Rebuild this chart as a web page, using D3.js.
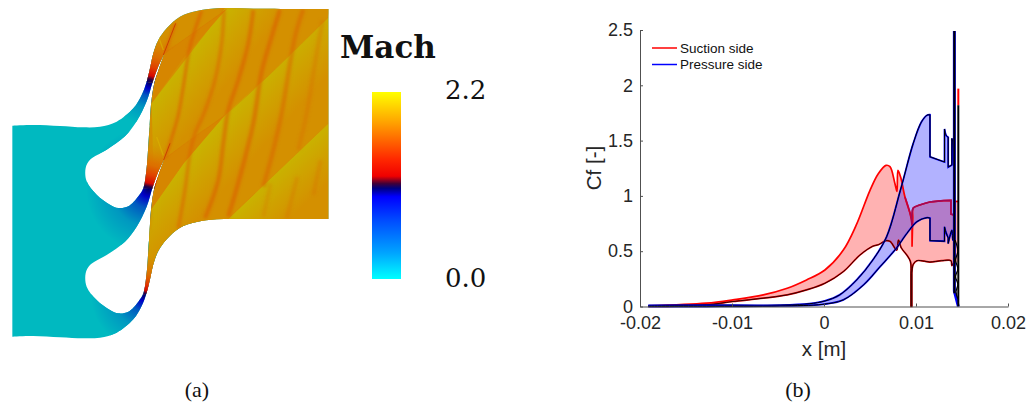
<!DOCTYPE html>
<html><head><meta charset="utf-8">
<script src="https://cdn.jsdelivr.net/npm/d3@7"></script>
<style>html,body{margin:0;padding:0;background:#fff}svg{display:block}</style>
</head><body><svg id="c" width="1031" height="405"></svg>
<script>
// ---- line chart data: [x in m, Cf]
const suctionUpper=[[-.0191,.005],[-.0128,.03],[-.0099,.06],[-.0066,.105],[-.004,.165],[-.0019,.24],[.0001,.33],[.0021,.51],[.0035,.735],[.005,1.05],[.0059,1.2],[.00674,1.276],[.00717,1.264],[.0077,1.115],[.00793,1.04],[.00804,1.23],[.00833,1.17],[.0088,.99],[.00935,.845],[.00957,.78],[.00957,.54],[.00965,.8],[.0097,.89],[.0104,.917],[.0115,.945],[.0138,.96],[.0138,.836],[.0141,.83],[.0142,.955]];
const suctionPlateau=[[.0088,.99],[.00935,.845],[.00957,.74]];
const suctionPlateau2=[[.00957,.74],[.0097,.89],[.0104,.917],[.0115,.945],[.0138,.96],[.0138,.836],[.0141,.83]];
const suctionTail=[[.0142,.95],[.0146,.95]];
const suctionLower=[[-.0191,0],[-.0128,.015],[-.0099,.045],[-.0066,.075],[-.004,.105],[-.0019,.15],[.0001,.21],[.0021,.315],[.0039,.465],[.0053,.545],[.0059,.558],[.00674,.595],[.0072,.587],[.0079,.51],[.0081,.6],[.0084,.53],[.009,.465],[.0094,.405],[.00945,.3],[.00945,0],[.00955,0],[.00955,.3],[.0097,.38],[.0101,.414],[.0109,.41],[.0115,.402],[.0128,.414],[.0138,.414],[.0139,.37],[.0142,.41]];
const pressureUpper=[[-.0191,.01],[-.0128,.012],[-.0048,.012],[-.0016,.025],[.0001,.05],[.0017,.105],[.00355,.24],[.0053,.42],[.0068,.63],[.0083,1.05],[.0097,1.475],[.0106,1.67],[.0112,1.73],[.01152,1.734],[.01152,1.354],[.0131,1.306],[.0131,1.605],[.01326,1.55],[.0135,1.53],[.0135,1.26],[.0139,1.28],[.0139,1.52],[.0140,1.48],[.01412,1.28]];
const pressureLower=[[-.0191,0],[-.0128,0],[-.0048,.005],[-.0001,.02],[.0021,.06],[.0043,.195],[.0061,.36],[.0079,.53],[.009,.66],[.0101,.767],[.0112,.803],[.01152,.80],[.01152,.595],[.0131,.59],[.0131,.72],[.01326,.67],[.0135,.62],[.0135,.57],[.0139,.69],[.0140,.6],[.01412,.65]];
const pressureSpike=[[.01417,2.49],[.01417,.14],[.0146,0]];
const blackSpike=[[.01417,2.49],[.01417,.12]];
const blackSpike2=[[.0146,1.82],[.0146,0]];
const zigzag=[[.01425,.6],[.01455,.5],[.0143,.42],[.01455,.34],[.0143,.27],[.01455,.2],[.01435,.13],[.01455,.07]];
const redTip=[[.0146,1.97],[.0146,1.82]];
const xTicks=[-.02,-.01,0,.01,.02];
const yTicks=[0,.5,1,1.5,2,2.5];
const legendNames=["Suction side","Pressure side"];
const legendColors=["#ff0000","#0000ff"];
const captions=["(a)","(b)"];

// ---- colour bar
const barOffsets=[0,.15,.36,.45,.49,.515,.56,.68,.86,1];
const barColors=["#ffff00","#ffaa00","#ff2800","#f00000","#400038","#000080","#0000ff","#0048ff","#00a4ff","#00ffff"];

// ---- flow field geometry in mesh units
const outlineTop=[[37,377],[100,375],[180,378],[250,382],[300,380],[350,365],[400,325],[425,285],[440,245],[450,205],[460,160],[475,120],[500,85],[540,50],[590,33],[650,25],[760,26],[985,27]];
const outlineBottom=[[985,657],[760,657],[650,658],[590,666],[540,683],[500,718],[475,753],[460,793],[450,838],[440,878],[425,918],[400,958],[350,998],[300,1013],[250,1015],[180,1012],[100,1008],[37,1010]];
const blade=[[491,480],[472,522],[458,562],[440,620],[410,680],[375,725],[320,765],[270,795],[257,820],[260,860],[290,900],[330,930],[355,940],[385,935],[415,905],[430,880],[440,820],[445,750],[449,690],[453,630],[463,565],[476,525],[492,481]];
const bladePitch=[-316,0];
const superRegion=[[438,245],[461,250],[456,262],[447,310],[440,400],[431,566],[460,566],[456,580],[447,620],[440,720],[431,884],[441,880],[445,1100],[1100,1100],[1100,0],[400,0]];
const shocks=[
 {p:[[495,475],[510,430],[535,345],[550,260],[570,140],[605,32]],w:8,o:.75},
 {p:[[495,155],[510,115],[527,70]],w:6,o:.85},
 {p:[[535,685],[555,570],[570,460],[585,400],[610,345],[645,240],[665,130],[672,30]],w:10,o:.55},
 {p:[[615,655],[655,540],[670,430],[685,330],[715,240],[745,130],[760,30]],w:12,o:.6},
 {p:[[685,650],[720,530],[760,370],[785,215],[815,110],[840,28]],w:13,o:.6},
 {p:[[790,560],[820,450],[845,340],[885,110],[910,28]],w:13,o:.5},
 {p:[[895,450],[920,340],[945,190],[968,60]],w:13,o:.28},
 {p:[[790,650],[812,550]],w:12,o:.2},
 {p:[[860,655],[892,530]],w:12,o:.25},
 {p:[[940,585],[962,480]],w:12,o:.25},
 {p:[[447,690],[452,630]],w:4,o:.6}
];
const yellowRays=[[[470,95],[490,150]],[[470,411],[490,466]]];
const wakeLines=[[[490,480],[580,412],[675,345],[800,232],[985,52]],[[685,656],[985,370]],[[490,162],[680,28]]];
const darkWedges=[[[490,162],[680,26],[550,175],[455,310],[470,230]],[[490,478],[675,345],[550,491],[455,626],[470,546]]];
const yellowWedges=[
 {p:[[455,310],[675,25],[990,20],[985,52],[800,232],[675,345],[550,491],[455,626],[460,500]],g:[[565,172],[675,260]]},
 {p:[[455,626],[550,491],[675,345],[800,232],[985,52],[990,660],[685,660],[500,720],[470,760],[450,840],[445,700]],g:[[640,395],[745,490]]},
 {p:[[685,656],[985,370],[990,660]],g:[[835,512],[925,605]]}
];
const throats=[
 {c:[448,250],r:125,dir:[[449,247],[490,110]]},
 {c:[445,568],r:185,dir:[[446,568],[478,440]]},
 {c:[434,885],r:160,dir:[[434,887],[458,770]]}
];
const radialOffsets=[0,.12,.3,.6,1];
const radialColors=["#00006a","#0000c8","#0058c0","#0098c0","#00b8c0"];
const flowOffsets=[0,.06,.14,.32,.55,1];
const flowColors=["#000070","#300040","#d80800","#e04000","#dc7000","#d68a00"];
const channels=[
 [[438,245],[462,250],[490,165],[560,110],[690,20],[400,0]],
 [[431,566],[463,568],[491,480],[450,380]],
 [[431,885],[441,880],[470,860],[520,720],[460,690],[440,700]]
];

const svg=d3.select("#c");
const defs=svg.append("defs");

// ---- left panel
const fx=d3.scaleLinear().domain([0,1031*3]).range([0,1031]);
const fy=d3.scaleLinear().domain([0,405*3]).range([0,405]);
const smooth=d3.line().x(d=>fx(d[0])).y(d=>fy(d[1])).curve(d3.curveCatmullRom.alpha(.5));
const straight=d3.line().x(d=>fx(d[0])).y(d=>fy(d[1]));
const outlineD=smooth(outlineTop)+"L"+smooth(outlineBottom).slice(1)+"Z";
const bladeD=bladePitch.map(s=>smooth(blade.map(p=>[p[0],p[1]+s]))+"Z").join("");
defs.append("clipPath").attr("id","dom").append("path").attr("d",outlineD+bladeD).attr("clip-rule","evenodd");
defs.append("filter").attr("id","b3").attr("x","-30%").attr("y","-30%").attr("width","160%").attr("height","160%").append("feGaussianBlur").attr("stdDeviation",1.6);
defs.append("filter").attr("id","b1").attr("x","-30%").attr("y","-30%").attr("width","160%").attr("height","160%").append("feGaussianBlur").attr("stdDeviation",.6);
function grad(type,id,attrs,offs,cols){
  const g=defs.append(type).attr("id",id).attr("gradientUnits","userSpaceOnUse");
  Object.entries(attrs).forEach(([k,v])=>g.attr(k,v));
  offs.forEach((o,i)=>g.append("stop").attr("offset",o).attr("stop-color",cols[i]));
}
const field=svg.append("g").attr("clip-path","url(#dom)");
field.append("rect").attr("x",0).attr("y",0).attr("width",340).attr("height",350).attr("fill","#00b9c0");
throats.forEach((t,i)=>{
  grad("radialGradient","rad"+i,{cx:fx(t.c[0]),cy:fy(t.c[1]),r:fx(t.r)},radialOffsets,radialColors);
  field.append("circle").attr("cx",fx(t.c[0])).attr("cy",fy(t.c[1])).attr("r",fx(t.r)).attr("fill","url(#rad"+i+")");
});
field.append("path").attr("d",straight(superRegion)+"Z").attr("fill","#d49000");
const wg=field.append("g").attr("filter","url(#b1)");
yellowWedges.forEach((w,i)=>{
  grad("linearGradient","yw"+i,{x1:fx(w.g[0][0]),y1:fy(w.g[0][1]),x2:fx(w.g[1][0]),y2:fy(w.g[1][1])},[0,.45,1],["#c9b200","#cfa200","#d49000"]);
  wg.append("path").attr("d",straight(w.p)+"Z").attr("fill","url(#yw"+i+")");
});
darkWedges.forEach(w=>wg.append("path").attr("d",straight(w)+"Z").attr("fill","#d68600"));
throats.forEach((t,i)=>{
  grad("linearGradient","fl"+i,{x1:fx(t.dir[0][0]),y1:fy(t.dir[0][1]),x2:fx(t.dir[1][0]),y2:fy(t.dir[1][1])},flowOffsets,flowColors);
});
channels.forEach((c,i)=>{
  const m=defs.append("mask").attr("id","mk"+i).attr("maskUnits","userSpaceOnUse").attr("x",0).attr("y",0).attr("width",340).attr("height",350);
  grad("linearGradient","mg"+i,{x1:fx(throats[i].dir[0][0]),y1:fy(throats[i].dir[0][1]),x2:fx(throats[i].dir[1][0]),y2:fy(throats[i].dir[1][1])},[0,.6,1],["#fff","#fff","#000"]);
  m.append("rect").attr("width",340).attr("height",350).attr("fill","url(#mg"+i+")");
  field.append("path").attr("d",straight(c)+"Z").attr("fill","url(#fl"+i+")").attr("mask","url(#mk"+i+")");
});
const sg=field.append("g").attr("filter","url(#b3)");
shocks.forEach(s=>sg.append("path").attr("d",smooth(s.p)).attr("fill","none").attr("stroke","#dc5c00").attr("stroke-width",fx(s.w)).attr("opacity",s.o));
const lg=field.append("g").attr("filter","url(#b1)");
wakeLines.forEach(p=>lg.append("path").attr("d",smooth(p)).attr("fill","none").attr("stroke","#d87800").attr("stroke-width",1).attr("opacity",.4));
yellowRays.forEach(p=>lg.append("path").attr("d",straight(p)).attr("fill","none").attr("stroke","#d8b000").attr("stroke-width",1.2).attr("opacity",.7));
field.append("path").attr("d",smooth([[490,165],[527,70]])).attr("stroke","#c83000").attr("stroke-width",.8).attr("fill","none").attr("filter","url(#b1)");
field.append("path").attr("d",smooth([[491,480],[510,430]])).attr("stroke","#c83000").attr("stroke-width",.8).attr("fill","none").attr("filter","url(#b1)");

// ---- colour bar
const barScale=d3.scaleLinear().domain([0,1]).range([92,279]);
grad("linearGradient","bar",{x1:0,y1:barScale(0),x2:0,y2:barScale(1)},barOffsets,barColors);
svg.append("rect").attr("x",372).attr("y",barScale(0)).attr("width",29).attr("height",barScale(1)-barScale(0)).attr("fill","url(#bar)");
const serif="'DejaVu Serif',serif";
svg.append("text").attr("x",340).attr("y",58).attr("font-family",serif).attr("font-weight","bold").attr("font-size",31).attr("fill","#111").text("Mach");
svg.append("text").attr("x",445).attr("y",99).attr("font-family",serif).attr("font-size",26).attr("fill","#111").text("2.2");
svg.append("text").attr("x",445).attr("y",287).attr("font-family",serif).attr("font-size",26).attr("fill","#111").text("0.0");

// ---- line chart
const x=d3.scaleLinear().domain([-.02,.02]).range([640,1008]);
const y=d3.scaleLinear().domain([0,2.5]).range([306.5,30]);
const curved=d3.line().x(d=>x(d[0])).y(d=>y(d[1])).curve(d3.curveCatmullRom.alpha(.5));
// smooth runs, with the vertical jumps kept straight
function pathOf(pts){
  const runs=[[pts[0]]];
  for(let i=1;i<pts.length;i++){
    if(Math.abs(pts[i][0]-pts[i-1][0])<2e-5) runs.push([pts[i]]);
    else runs[runs.length-1].push(pts[i]);
  }
  return runs.map((r,i)=>{
    const s=r.length>1?curved(r):"M"+x(r[0][0])+","+y(r[0][1]);
    return i?"L"+s.slice(1):s;
  }).join("");
}
const band=(a,b)=>pathOf(a)+"L"+pathOf(b.slice().reverse()).slice(1)+"Z";
svg.append("path").attr("d",band(suctionUpper,suctionLower)).attr("fill","#ff0000").attr("fill-opacity",.3);
svg.append("path").attr("d",band(pressureUpper.concat([[.01417,1.3],[.01417,.62]]),pressureLower)).attr("fill","#0000ff").attr("fill-opacity",.3);
svg.append("path").attr("d",band(suctionTail,[[.0142,.4],[.0146,.4]])).attr("fill","#ff0000").attr("fill-opacity",.3);
const stroke=(d,c,w)=>svg.append("path").attr("d",pathOf(d)).attr("fill","none").attr("stroke",c).attr("stroke-width",w);
stroke(suctionUpper,"#ff0000",1.7);
stroke(suctionPlateau,"#c00040",1.7);
stroke(suctionPlateau2,"#a00858",1.7);
stroke(suctionTail,"#ff0000",1.7);
stroke(suctionLower,"#e00000",1.7);
stroke(suctionLower,"#000",.8);
stroke(pressureUpper,"#0000ff",1.8);
stroke(pressureUpper,"#000",1);
stroke(pressureLower,"#0000ff",1.8);
stroke(pressureLower,"#000",1);
stroke(pressureSpike,"#0000ff",3);
stroke(blackSpike,"#000",2);
stroke(redTip,"#ff0000",2);
stroke(blackSpike2,"#000",2);
stroke(zigzag,"#000",1.3);

const tickFmt=d=>d===0?"0":String(d);
const axB=svg.append("g").attr("transform","translate(0,306.5)").call(d3.axisBottom(x).tickValues(xTicks).tickFormat(tickFmt).tickSizeInner(-3).tickSizeOuter(0).tickPadding(10));
const axL=svg.append("g").attr("transform","translate(640,0)").call(d3.axisLeft(y).tickValues(yTicks).tickFormat(tickFmt).tickSizeInner(-3).tickSizeOuter(0).tickPadding(7));
[axB,axL].forEach(a=>{
  a.selectAll("text").attr("font-family","'Liberation Sans',sans-serif").attr("font-size",18).attr("fill","#262626");
  a.selectAll("line,path").attr("stroke","#505050");
});
const sans="'Liberation Sans',sans-serif";
svg.append("text").attr("x",824).attr("y",356).attr("text-anchor","middle").attr("font-family",sans).attr("font-size",20.5).attr("fill","#262626").text("x [m]");
svg.append("text").attr("transform","translate(601,168) rotate(-90)").attr("text-anchor","middle").attr("font-family",sans).attr("font-size",20.5).attr("fill","#262626").text("Cf [-]");
legendNames.forEach((n,i)=>{
  const yy=48+i*16.5;
  svg.append("line").attr("x1",652).attr("x2",677).attr("y1",yy).attr("y2",yy).attr("stroke",legendColors[i]).attr("stroke-width",1.5);
  svg.append("text").attr("x",680).attr("y",yy+4.5).attr("font-family",sans).attr("font-size",13.5).attr("fill","#111").text(n);
});
captions.forEach((t,i)=>svg.append("text").attr("x",[197,798][i]).attr("y",397).attr("text-anchor","middle").attr("font-family","'Liberation Serif',serif").attr("font-size",22).attr("fill","#111").text(t));
</script></body></html>
